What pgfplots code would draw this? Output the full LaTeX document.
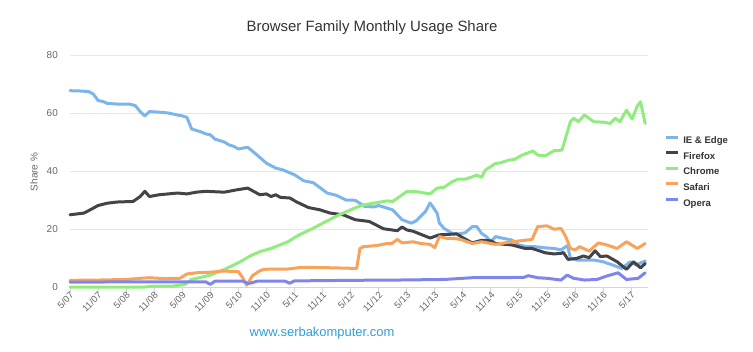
\documentclass[border=0pt]{standalone}
\usepackage{fontspec}
\setmainfont{Liberation Sans}
\usepackage{pgfplots}
\pgfplotsset{compat=1.18}
\definecolor{cIE}{HTML}{7CB5EC}
\definecolor{cFF}{HTML}{434348}
\definecolor{cCH}{HTML}{90ED7D}
\definecolor{cSA}{HTML}{F7A35C}
\definecolor{cOP}{HTML}{8085E9}
\definecolor{cAxis}{HTML}{CCD6EB}
\definecolor{cGrid}{HTML}{E6E6E6}
\definecolor{cLab}{HTML}{666666}
\definecolor{cTitle}{HTML}{333333}
\definecolor{cWeb}{HTML}{2B9FD9}
\begin{document}
\begin{tikzpicture}[x=1bp,y=1bp]
\path[use as bounding box] (0,0) rectangle (753,351);
\begin{axis}[
  at={(70bp,64bp)}, anchor=south west,
  width=578bp, height=232bp, scale only axis,
  xmin=0, xmax=123.6, ymin=0, ymax=80,
  clip=false,
  axis lines*=left,
  y axis line style={draw=none},
  x axis line style={color=cAxis, line width=1bp},
  xtick style={color=cAxis, line width=1bp},
  ytick style={draw=none},
  tick align=outside,
  major tick length=6bp,
  ymajorgrids,
  major grid style={color=cGrid, line width=1bp},
  ytick={0,20,40,60,80},
  xtick={0,6,...,120},
  xticklabels={5/07,11/07,5/08,11/08,5/09,11/09,5/10,11/10,5/11,11/11,5/12,11/12,5/13,11/13,5/14,11/14,5/15,11/15,5/16,11/16,5/17},
  /pgf/number format/assume math mode=true,
  yticklabel style={font=\fontsize{10}{12}\selectfont, text=cLab, anchor=east, inner sep=0pt, xshift=-6bp},
  xticklabel style={font=\fontsize{9.5}{11}\selectfont, text=cLab, rotate=45, anchor=east, inner sep=1pt, xshift=2bp, yshift=-2bp},
  every axis plot/.append style={line width=3bp, line join=round, line cap=round, no marks},
  legend image code/.code={\draw[#1, line width=3bp, line cap=butt] (0bp,3.6bp) -- (12bp,3.6bp);},
  legend cell align=left,
  legend style={draw=none, fill=none, inner sep=0pt, outer sep=0pt,
    at={(1.029,0.496)}, anchor=west,
    row sep=5.5bp, column sep=3.5bp,
    nodes={inner sep=0pt, text height=8bp, text depth=2bp, font=\bfseries\fontsize{9.6}{12}\selectfont, text=cTitle}},
]
\addplot[cIE] coordinates {(0,67.7)(2,67.6)(4,67.4)(5,66.5)(6,64.3)(7,64)(8,63.3)(10,63.1)(12,63.1)(13,63)(14,62.5)(15,60.5)(16,59)(17,60.5)(19,60.3)(21,60)(23,59.3)(24,59)(25,58.5)(26,54.5)(28,53.5)(29,52.8)(30,52.5)(31,51)(33,50)(34,49)(35,48.5)(36,47.6)(38,48.2)(39.5,46.2)(42,42.7)(44,41)(45.5,40.4)(48,38.7)(50,36.6)(52,36)(55,32.4)(57,31.6)(59,30)(61,29.9)(63,27.8)(65,27.6)(66,28.1)(69,26.6)(71,23.2)(73,22)(74,22.8)(76,26)(77,29)(78.5,25.5)(79,22)(80,20.2)(81.7,18.5)(83,18.3)(84.5,18.7)(86,20.8)(87,20.8)(88,18.5)(89,17.4)(90,15.6)(91,17.4)(92,17)(94.5,16.2)(96,14.5)(97.7,13.9)(99.5,13.9)(101.6,13.5)(103.5,13.3)(105,12.8)(106.4,14.3)(107,9.9)(108.4,9.3)(112,9.3)(114,8.7)(116,7.6)(118,6.4)(119.8,8.7)(121,7.6)(122.6,8.7)(123,9)};
\addlegendentry{IE \& Edge}
\addplot[cFF] coordinates {(0,24.9)(2,25.3)(3,25.5)(4.3,26.6)(6,28.1)(8,28.9)(10,29.3)(13.5,29.5)(15,31.2)(16,33)(17,31.2)(19,31.8)(23,32.4)(25,32.1)(27,32.7)(29,33)(33,32.7)(34,33)(35.6,33.5)(38,34.1)(40.6,31.8)(42,32.1)(43,31.2)(44,31.8)(45,30.9)(47,30.7)(48.5,29.3)(51,27.4)(53.5,26.6)(55.6,25.5)(58.4,24.9)(61,23.2)(64,22.6)(67,20.1)(70,19.4)(71,20.7)(72,19.7)(73.4,19.2)(77,16.9)(79,18)(82.7,18.3)(84,17)(86,15.2)(88,16.1)(90,15.9)(91,15)(94.5,14.5)(97.3,13.3)(98.8,13.3)(101.6,11.8)(103.5,11.4)(105,11.6)(105.5,11.9)(106.5,9.5)(108.4,9.9)(109.8,10.7)(111,10.1)(112.3,12.5)(113.4,10.5)(114.8,10.7)(117,8.7)(119,6.1)(120.5,8.7)(122,6.6)(123,8.1)};
\addlegendentry{Firefox}
\addplot[cCH] coordinates {(0,0)(16,0)(18,0.3)(22,0.3)(24.6,0.9)(26,2.6)(30,4.1)(33.5,6.4)(36.4,8.7)(38.5,10.7)(40.6,12.2)(43,13.3)(46.6,15.6)(48.8,17.8)(51.8,20.1)(54.5,22.4)(57.3,24.7)(61,27.3)(62.7,28.3)(65.6,29.1)(67.8,29.7)(69,29.5)(72,32.9)(74,32.9)(77,32.1)(78.5,34.1)(80,34.4)(81.7,36.3)(83,37.2)(84.5,37.2)(86,38)(87,38.6)(88,37.8)(88.8,40.3)(91,42.6)(92,42.8)(93.7,43.7)(95,44)(96.7,45.5)(99,46.9)(100,45.5)(101.6,45.2)(103.5,47)(105.2,47.2)(107,57)(107.7,58.2)(108.7,57)(110,59.3)(112,57)(114.4,56.8)(115.5,56.4)(116.6,58.2)(117.6,57)(119,61)(120.2,57.9)(121.3,62.4)(122,63.9)(123,56.4)};
\addlegendentry{Chrome}
\addplot[cSA] coordinates {(0,2.3)(6,2.4)(12,2.6)(15,3)(17,3.2)(20,2.9)(23.5,3)(25,4.5)(27,4.9)(30,5.1)(32.7,5.5)(36,5.3)(36.8,3.5)(37.8,0.6)(39,3.9)(40.6,5.6)(41.5,6.1)(44,6.2)(46.6,6.2)(49.6,6.8)(54,6.7)(61.3,6.4)(62,13.3)(62.7,13.9)(65.6,14.3)(67.8,15)(68.8,15)(70,16.4)(71,15.2)(73.4,15.6)(75,15)(77,14.7)(78,13.6)(79,17.4)(80.5,16.8)(82,16.8)(83.5,16.4)(86,15)(88,15.6)(91,14.7)(94.5,15.6)(98.8,16.4)(100,20.8)(102,21.1)(103.5,19.9)(105,20.2)(106,17.4)(107,13.3)(108,12.8)(109,13.9)(111,12.4)(113,15.2)(114.8,14.5)(117,13.3)(119,15.6)(121.3,13.3)(123,15)};
\addlegendentry{Safari}
\addplot[cOP] coordinates {(0,1.7)(29,1.8)(30,0.9)(31,2)(37,2)(38,1.2)(39,1.5)(40,2)(46,2)(47,1.3)(48,2.1)(60,2.3)(70,2.4)(80,2.6)(86,3.2)(97,3.3)(98,3.9)(100,3.2)(102,3)(105,2.4)(106.3,4.1)(107.7,3)(110,2.4)(112.7,2.6)(114.8,3.8)(117.2,4.9)(119,2.6)(121.5,3)(123,4.9)};
\addlegendentry{Opera}
\end{axis}
\node[font=\fontsize{15}{18}\selectfont, text=cTitle] at (372,323) {Browser Family Monthly Usage Share};
\node[rotate=90, font=\fontsize{10}{12}\selectfont, text=cLab] at (34,179) {Share \%};
\node[font=\fontsize{13}{15}\selectfont, text=cWeb] at (322,18) {www.serbakomputer.com};
\end{tikzpicture}
\end{document}
